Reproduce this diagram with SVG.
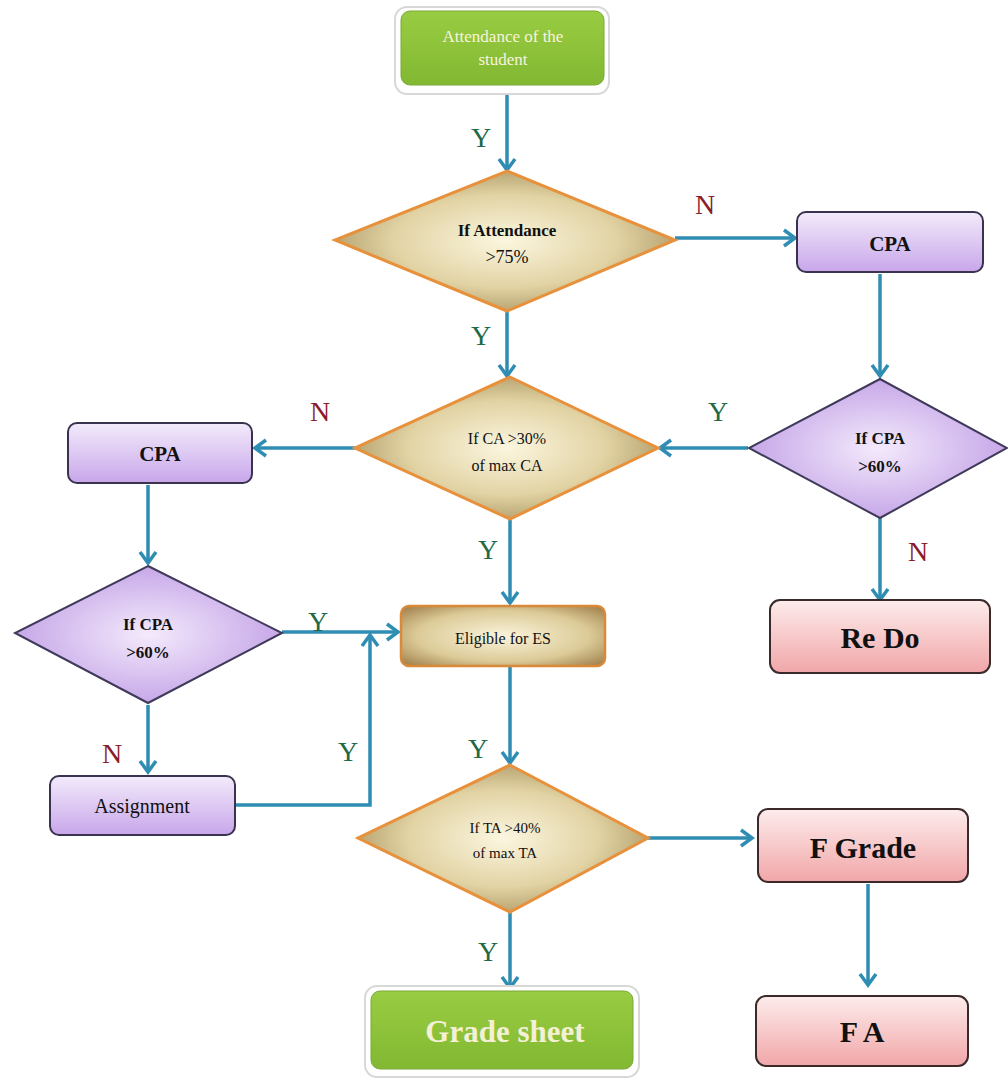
<svg xmlns="http://www.w3.org/2000/svg" width="1008" height="1081" viewBox="0 0 1008 1081">
<defs>
<style>
.lbl{font-family:"Liberation Serif","DejaVu Serif",serif;font-size:28px;text-anchor:middle}
.y{fill:#1f6a45}
.n{fill:#8a1c2c}
.t{font-family:"Liberation Serif","DejaVu Serif",serif;text-anchor:middle;fill:#111}
.con{fill:none;stroke:#2f8db3;stroke-width:3.5;stroke-linejoin:miter}
</style>
<linearGradient id="green" x1="0" y1="0" x2="0" y2="1">
<stop offset="0" stop-color="#98cc42"/><stop offset="1" stop-color="#82b832"/>
</linearGradient>
<linearGradient id="purple" x1="0" y1="0" x2="0" y2="1">
<stop offset="0" stop-color="#f3ebfb"/><stop offset="1" stop-color="#c8a6ea"/>
</linearGradient>
<linearGradient id="pink" x1="0" y1="0" x2="0" y2="1">
<stop offset="0" stop-color="#fdecec"/><stop offset="1" stop-color="#f1a6a8"/>
</linearGradient>
<radialGradient id="tan" cx="0.5" cy="0.5" r="0.6">
<stop offset="0" stop-color="#fbf6df"/><stop offset="0.55" stop-color="#e2d3a4"/><stop offset="1" stop-color="#a08a55"/>
</radialGradient>
<radialGradient id="lav" cx="0.5" cy="0.5" r="0.6">
<stop offset="0" stop-color="#f4eafc"/><stop offset="1" stop-color="#bd9ae4"/>
</radialGradient>
<radialGradient id="brown" cx="0.5" cy="0.5" r="0.7">
<stop offset="0" stop-color="#fbf4dc"/><stop offset="0.6" stop-color="#dccb98"/><stop offset="1" stop-color="#9c7a45"/>
</radialGradient>
<marker id="ah" markerWidth="16" markerHeight="20" refX="13" refY="10" orient="auto" markerUnits="userSpaceOnUse">
<path d="M2,2 L13,10 L2,18" fill="none" stroke="#2f8db3" stroke-width="3.5"/>
</marker>
</defs>
<rect width="1008" height="1081" fill="#ffffff"/>

<g id="connectors">
<path class="con" d="M507,90 V170" marker-end="url(#ah)"/>
<path class="con" d="M675,238 H795" marker-end="url(#ah)"/>
<path class="con" d="M507,312 V376" marker-end="url(#ah)"/>
<path class="con" d="M880,274 V376" marker-end="url(#ah)"/>
<path class="con" d="M748,448 H660" marker-end="url(#ah)"/>
<path class="con" d="M355,448 H255" marker-end="url(#ah)"/>
<path class="con" d="M148,485 V563" marker-end="url(#ah)"/>
<path class="con" d="M510,520 V603" marker-end="url(#ah)"/>
<path class="con" d="M880,518 V600" marker-end="url(#ah)"/>
<path class="con" d="M282,632 H398" marker-end="url(#ah)"/>
<path class="con" d="M148,705 V772" marker-end="url(#ah)"/>
<path class="con" d="M236,805 H370 V635" marker-end="url(#ah)"/>
<path class="con" d="M510,667 V763" marker-end="url(#ah)"/>
<path class="con" d="M648,838 H752" marker-end="url(#ah)"/>
<path class="con" d="M868,884 V985" marker-end="url(#ah)"/>
<path class="con" d="M510,912 V988" marker-end="url(#ah)"/>
</g>

<g id="labels">
<text class="lbl y" x="481" y="147">Y</text>
<text class="lbl n" x="705" y="214">N</text>
<text class="lbl y" x="481" y="345">Y</text>
<text class="lbl n" x="320" y="421">N</text>
<text class="lbl y" x="718" y="421">Y</text>
<text class="lbl y" x="488" y="559">Y</text>
<text class="lbl n" x="918" y="561">N</text>
<text class="lbl y" x="318" y="631">Y</text>
<text class="lbl n" x="112" y="763">N</text>
<text class="lbl y" x="348" y="761">Y</text>
<text class="lbl y" x="478" y="758">Y</text>
<text class="lbl y" x="488" y="961">Y</text>
</g>

<g id="start">
<rect x="395" y="7" width="214" height="87" rx="12" fill="#ffffff" stroke="#d8d8d8" stroke-width="2"/>
<rect x="401" y="11" width="203" height="74" rx="9" fill="url(#green)" stroke="#7aa83a" stroke-width="1"/>
<text class="t" x="503" y="42" font-size="17" style="fill:#f7f4df">Attendance of the</text>
<text class="t" x="503" y="65" font-size="17" style="fill:#f7f4df">student</text>
</g>

<g id="d-attendance">
<polygon points="507,171 675,240 507,311 335,240" fill="url(#tan)" stroke="#e8913c" stroke-width="3"/>
<text class="t" x="507" y="236" font-size="17" font-weight="bold">If Attendance</text>
<text class="t" x="507" y="263" font-size="18">&gt;75%</text>
</g>

<g id="cpa-right">
<rect x="797" y="212" width="186" height="60" rx="9" fill="url(#purple)" stroke="#3a3350" stroke-width="2"/>
<text class="t" x="890" y="251" font-size="21" font-weight="bold">CPA</text>
</g>

<g id="d-cpa-right">
<polygon points="880,379 1007,448 880,518 749,448" fill="url(#lav)" stroke="#3f3a5a" stroke-width="2"/>
<text class="t" x="880" y="444" font-size="17" font-weight="bold">If CPA</text>
<text class="t" x="880" y="472" font-size="17" font-weight="bold">&gt;60%</text>
</g>

<g id="d-ca">
<polygon points="510,377 658,448 510,519 355,448" fill="url(#tan)" stroke="#e8913c" stroke-width="3"/>
<text class="t" x="507" y="444" font-size="16">If CA &gt;30%</text>
<text class="t" x="507" y="471" font-size="16">of max CA</text>
</g>

<g id="cpa-left">
<rect x="68" y="423" width="184" height="60" rx="9" fill="url(#purple)" stroke="#3a3350" stroke-width="2"/>
<text class="t" x="160" y="461" font-size="21" font-weight="bold">CPA</text>
</g>

<g id="d-cpa-left">
<polygon points="148,566 282,633 148,703 15,633" fill="url(#lav)" stroke="#3f3a5a" stroke-width="2"/>
<text class="t" x="148" y="630" font-size="17" font-weight="bold">If CPA</text>
<text class="t" x="148" y="658" font-size="17" font-weight="bold">&gt;60%</text>
</g>

<g id="eligible">
<rect x="401" y="606" width="204" height="60" rx="8" fill="url(#brown)" stroke="#d9893a" stroke-width="2.5"/>
<text class="t" x="503" y="644" font-size="16">Eligible for ES</text>
</g>

<g id="redo">
<rect x="770" y="600" width="220" height="73" rx="10" fill="url(#pink)" stroke="#3a2a2a" stroke-width="2"/>
<text class="t" x="880" y="648" font-size="30" font-weight="bold">Re Do</text>
</g>

<g id="assignment">
<rect x="50" y="776" width="185" height="59" rx="9" fill="url(#purple)" stroke="#3a3350" stroke-width="2"/>
<text class="t" x="142" y="813" font-size="20">Assignment</text>
</g>

<g id="d-ta">
<polygon points="510,765 648,838 510,912 358,838" fill="url(#tan)" stroke="#e8913c" stroke-width="3"/>
<text class="t" x="505" y="833" font-size="15">If TA &gt;40%</text>
<text class="t" x="505" y="858" font-size="15">of max TA</text>
</g>

<g id="fgrade">
<rect x="758" y="809" width="210" height="73" rx="10" fill="url(#pink)" stroke="#3a2a2a" stroke-width="2"/>
<text class="t" x="863" y="858" font-size="30" font-weight="bold">F Grade</text>
</g>

<g id="fa">
<rect x="756" y="996" width="212" height="70" rx="10" fill="url(#pink)" stroke="#3a2a2a" stroke-width="2"/>
<text class="t" x="862" y="1042" font-size="30" font-weight="bold">F A</text>
</g>

<g id="gradesheet">
<rect x="365" y="986" width="274" height="91" rx="12" fill="#ffffff" stroke="#d8d8d8" stroke-width="2"/>
<rect x="371" y="991" width="262" height="78" rx="9" fill="url(#green)" stroke="#7aa83a" stroke-width="1"/>
<text class="t" x="505" y="1042" font-size="31" font-weight="bold" style="fill:#f3f0d6">Grade sheet</text>
</g>
</svg>
